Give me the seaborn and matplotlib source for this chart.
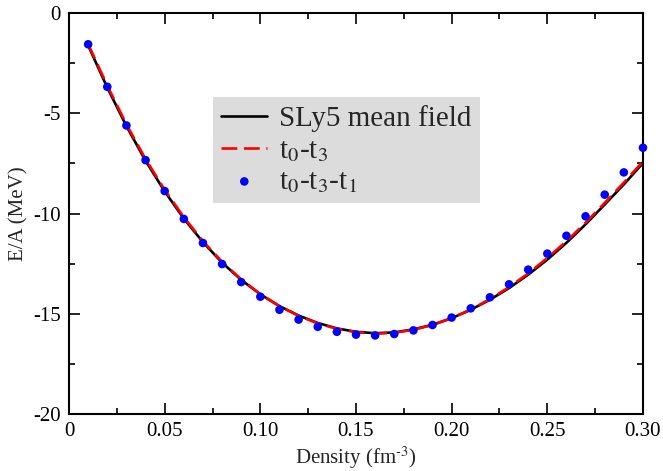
import matplotlib
matplotlib.use("Agg")
import matplotlib.pyplot as plt
from matplotlib.ticker import MultipleLocator, FixedLocator, FixedFormatter
import seaborn as sns
import numpy as np

# densita' (fm^-3)
density = [0.01, 0.02, 0.03, 0.04, 0.05, 0.06, 0.07, 0.08, 0.09, 0.10,
           0.11, 0.12, 0.13, 0.14, 0.15, 0.16, 0.17, 0.18, 0.19, 0.20,
           0.21, 0.22, 0.23, 0.24, 0.25, 0.26, 0.27, 0.28, 0.29, 0.30]

# SLy5 mean field
ea_sly5 = [-1.62, -3.72, -5.64, -7.37, -8.90, -10.25, -11.43, -12.45, -13.31, -14.03,
           -14.62, -15.09, -15.46, -15.73, -15.90, -15.97, -15.93, -15.78, -15.55, -15.22,
           -14.80, -14.30, -13.72, -13.05, -12.30, -11.46, -10.54, -9.55, -8.55, -7.48]

# t0-t3
ea_t0t3 = [-1.55, -3.62, -5.55, -7.28, -8.82, -10.18, -11.38, -12.41, -13.29, -14.02,
           -14.62, -15.10, -15.48, -15.75, -15.92, -15.99, -15.95, -15.80, -15.56, -15.22,
           -14.79, -14.27, -13.67, -12.99, -12.22, -11.38, -10.46, -9.47, -8.46, -7.40]

# t0-t3-t1
ea_t0t3t1 = [-1.56, -3.68, -5.61, -7.34, -8.88, -10.27, -11.47, -12.52, -13.42, -14.15,
             -14.80, -15.29, -15.65, -15.90, -16.04, -16.08, -16.01, -15.83, -15.56, -15.19,
             -14.73, -14.18, -13.53, -12.80, -12.00, -11.11, -10.14, -9.06, -7.95, -6.72]

x_ticks = [0, 0.05, 0.10, 0.15, 0.20, 0.25, 0.30]
x_labels = ["0", "0.05", "0.10", "0.15", "0.20", "0.25", "0.30"]
y_ticks = [-20, -15, -10, -5, 0]
y_labels = ["-20", "-15", "-10", "-5", "0"]

sns.set_theme(style="ticks")
plt.rcParams['font.family'] = ['Liberation Serif', 'DejaVu Serif']
plt.rcParams['mathtext.fontset'] = 'stix'

fig = plt.figure(figsize=(6.63, 4.71), dpi=100)
ax = fig.add_axes([0.1041, 0.121, 0.8657, 0.8514])

sns.lineplot(x=density, y=ea_sly5, ax=ax, color='black', linewidth=1.9,
             label='SLy5 mean field', zorder=2)
sns.lineplot(x=density, y=ea_t0t3, ax=ax, color='red', linewidth=1.9,
             label='t$_0$-t$_3$', zorder=3)
ax.lines[1].set_dashes([6, 2.5])
sns.scatterplot(x=density, y=ea_t0t3t1, ax=ax, color='blue', s=38, edgecolor='none',
                label='t$_0$-t$_3$-t$_1$', zorder=4, clip_on=False)

ax.set_xlim(0, 0.30)
ax.set_ylim(-20, 0)
ax.xaxis.set_major_locator(FixedLocator(x_ticks))
ax.xaxis.set_major_formatter(FixedFormatter(x_labels))
ax.yaxis.set_major_locator(FixedLocator(y_ticks))
ax.yaxis.set_major_formatter(FixedFormatter(y_labels))
ax.xaxis.set_minor_locator(MultipleLocator(0.025))
ax.yaxis.set_minor_locator(MultipleLocator(2.5))
ax.tick_params(which='both', direction='in', top=True, right=True, width=1.2,
               colors='black', labelsize=15, pad=6)
ax.tick_params(which='major', length=8)
ax.tick_params(which='minor', length=4.5)
for sp in ax.spines.values():
    sp.set_linewidth(1.5)
    sp.set_color('black')

ax.set_xlabel(r'Density (fm$^{\text{-3}}$)', fontsize=15, labelpad=2)
ax.set_ylabel('E/A (MeV)', fontsize=15, labelpad=3)

leg = ax.legend(loc='upper left', bbox_to_anchor=(0.251, 0.79), fontsize=21,
                frameon=True, fancybox=False, borderpad=0.28, labelspacing=0.17,
                handlelength=1.58, handletextpad=0.4, borderaxespad=0)
leg.get_frame().set_facecolor('#dcdcdc')
leg.get_frame().set_edgecolor('none')
leg.get_frame().set_alpha(1)

fig.savefig('out.png', dpi=100)
